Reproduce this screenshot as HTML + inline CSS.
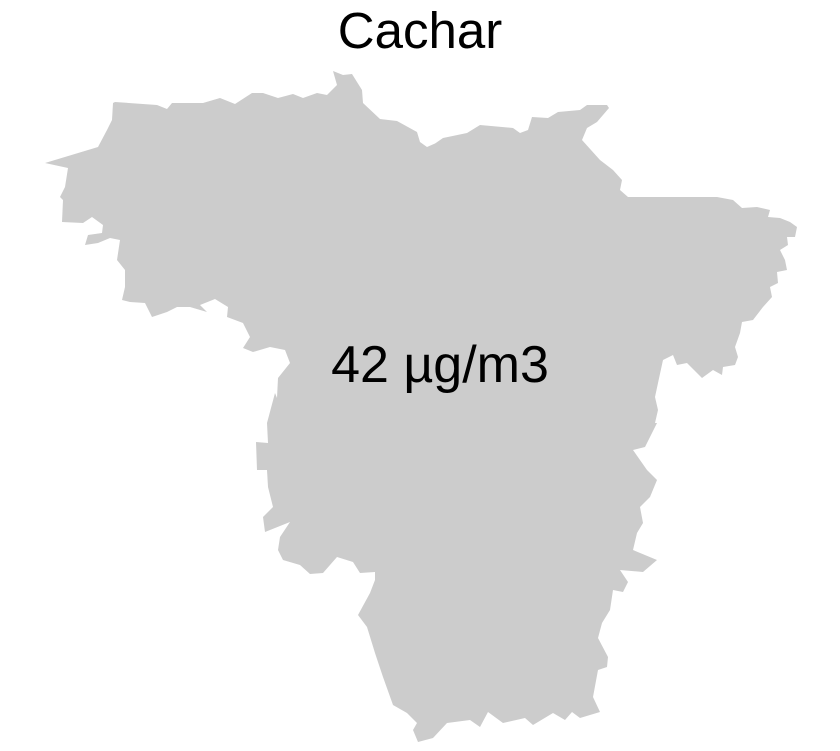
<!DOCTYPE html>
<html><head><meta charset="utf-8"><style>
html,body{margin:0;padding:0;background:#fff;}
svg{display:block;}
text{font-family:"Liberation Sans",Arial,sans-serif;fill:#000;}
</style></head><body>
<svg width="840" height="751" viewBox="0 0 840 751">
<text x="420" y="48" font-size="51" text-anchor="middle">Cachar</text>
<polygon fill="#cccccc" points="
115,102 157,105 167,109 172,103 203,103 220,98 235,104 252,93 263,93 278,98 293,94 303,98 317,93 327,95 337,85 333,71 343,75 352,74 362,90 363,103 380,119 397,121 417,132 420,142 427,147 443,140
430,147 443,138 467,133 480,125 513,128 520,133 528,130 532,117 548,118 558,112 580,110 587,105 607,105 609,108 597,122 587,128 582,140 600,160 613,170 622,180 620,190 628,197 717,197 733,200 742,208 757,207 770,210 768,217 780,218 790,222 797,227 795,237 787,237 788,245 780,250 785,260 787,270 777,272 778,283 770,287 772,297 763,307 753,320 742,322 740,333 735,347 738,357 735,365 723,367 722,375 713,370 702,378 687,363 677,365 673,355 663,360 658,383 655,397 658,410 655,423
657,423 645,447 633,450 647,470 657,480 650,497 640,507 643,523 637,533 633,550 657,560 643,572 620,570 628,582 623,592 613,590 610,610 602,623 598,638 608,657 607,667 598,670 593,697 600,712 580,718 572,712 565,720 553,713 533,725 525,718 503,723 488,712 480,727 470,720 447,723 433,738 418,742 413,730 417,723 407,713 393,705 383,677 375,653 367,627 358,615 370,593 375,580 375,572 360,573 353,562 337,557 323,573 310,574 300,565 283,560 278,550 280,537 290,522 265,532 263,517 273,507 268,487 267,470 257,470 256,442 268,443 267,423 275,393
277,398 278,378 290,363 285,350 270,347 253,352 243,348 250,337 243,323 227,317 228,307 215,299 200,305 207,312 190,307 177,307 167,312 152,317 145,303 130,302 122,300 125,287 125,270 117,260 120,240 110,238 98,243 85,245 88,235 102,233 103,225 92,217 83,223 62,222 63,200 60,197 65,187 68,168 45,163 98,147 107,130 112,120 113,103"/>
<text x="440" y="382" font-size="52" text-anchor="middle">42 µg/m3</text>
</svg>
</body></html>
